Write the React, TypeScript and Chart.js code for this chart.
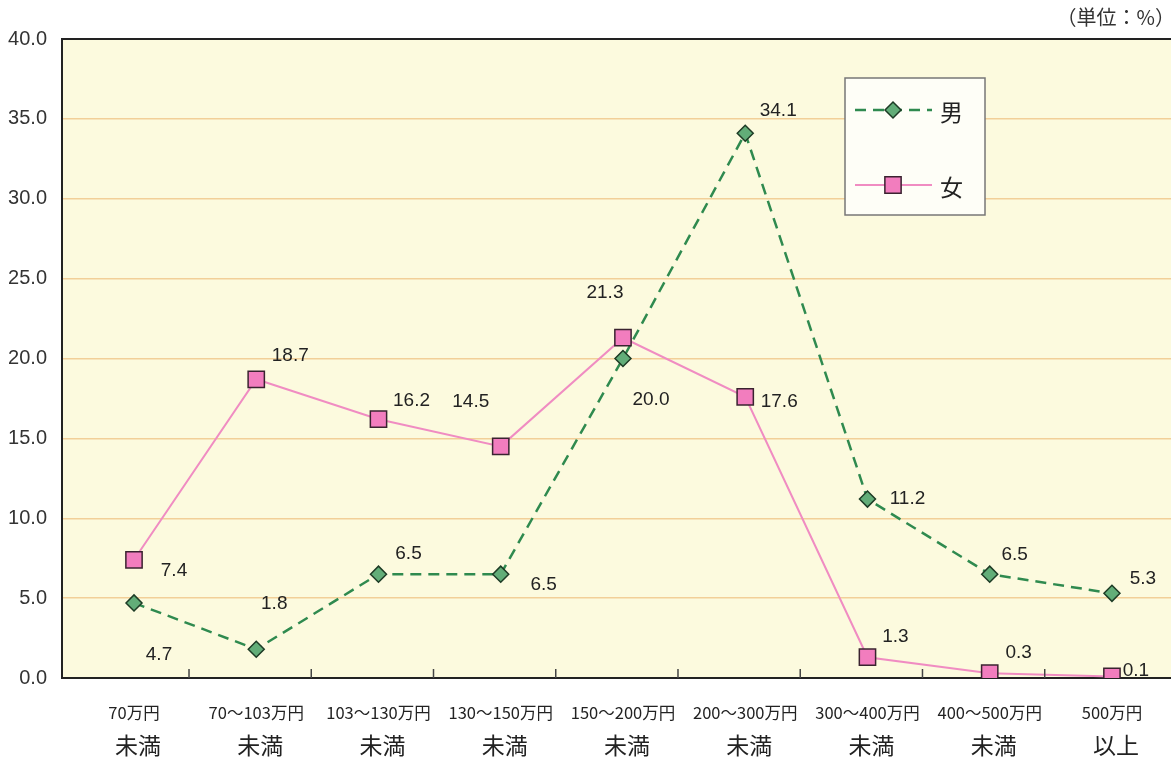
import React, { useEffect, useRef } from "react";
import { Chart, registerables } from "chart.js";

Chart.register(...registerables);

const categoriesTop = ["70万円", "70～103万円", "103～130万円", "130～150万円", "150～200万円", "200～300万円", "300～400万円", "400～500万円", "500万円"];
const categoriesBottom = ["未満", "未満", "未満", "未満", "未満", "未満", "未満", "未満", "以上"];
const maleValues = [4.7, 1.8, 6.5, 6.5, 20.0, 34.1, 11.2, 6.5, 5.3];
const femaleValues = [7.4, 18.7, 16.2, 14.5, 21.3, 17.6, 1.3, 0.3, 0.1];
const yTicks = [0, 5, 10, 15, 20, 25, 30, 35, 40];
const unitLabel = "（単位：%）";
const maleName = "男";
const femaleName = "女";

// label placement hints (pixel offsets from each point)
const maleLabelOffsets = [[25, 52], [18, -45], [30, -20], [43, 11], [28, 41], [33, -22], [40, 0], [25, -19], [31, -15]];
const femaleLabelOffsets = [[40, 11], [34, -24], [33, -18], [-30, -45], [-18, -45], [34, 5], [28, -20], [29, -20], [24, -6]];

const NUM_FONT = "'Liberation Sans', Arial, sans-serif";
const JP_FONT = "'Noto Sans CJK JP', 'Noto Sans', sans-serif";

const decorPlugin = {
  id: "decor",
  beforeDraw(chart: any) {
    const { ctx, chartArea: a } = chart;
    ctx.save();
    ctx.fillStyle = "#ffffff";
    ctx.fillRect(0, 0, chart.width, chart.height);
    ctx.fillStyle = "#fcfade";
    ctx.fillRect(a.left, a.top, a.right - a.left, a.bottom - a.top);
    ctx.restore();
  },
  afterDraw(chart: any) {
    const { ctx, chartArea: a } = chart;
    const xs = chart.scales.x;
    ctx.save();
    ctx.strokeStyle = "#222";
    ctx.lineWidth = 2;
    ctx.beginPath();
    ctx.moveTo(a.left, a.top);
    ctx.lineTo(a.right, a.top);
    ctx.stroke();
    ctx.strokeStyle = "#444";
    ctx.lineWidth = 1.5;
    for (let i = 0; i < categoriesTop.length - 1; i++) {
      const x = xs.getPixelForValue(i + 0.45);
      ctx.beginPath();
      ctx.moveTo(x, a.bottom);
      ctx.lineTo(x, a.bottom - 9);
      ctx.stroke();
    }
    ctx.fillStyle = "#222";
    ctx.textAlign = "center";
    ctx.textBaseline = "middle";
    for (let i = 0; i < categoriesTop.length; i++) {
      const x = xs.getPixelForValue(i);
      ctx.font = `16.5px ${JP_FONT}`;
      ctx.fillText(categoriesTop[i], x, 713);
      ctx.font = `23px ${JP_FONT}`;
      ctx.fillText(categoriesBottom[i], x + 4, 745);
    }
    ctx.font = `20px ${JP_FONT}`;
    ctx.textAlign = "right";
    ctx.fillStyle = "#333";
    ctx.fillText(unitLabel, 1175, 17);

    ctx.font = `19px ${NUM_FONT}`;
    ctx.textAlign = "center";
    ctx.fillStyle = "#222";
    chart.data.datasets.forEach((ds: any, di: number) => {
      const meta = chart.getDatasetMeta(di);
      const offs = ds.labelOffsets;
      meta.data.forEach((el: any, i: number) => {
        const v = ds.data[i].y;
        ctx.fillText(v.toFixed(1), el.x + offs[i][0], el.y + offs[i][1]);
      });
    });

    const bx = 845, by = 78, bw = 140, bh = 137;
    ctx.fillStyle = "#fefef7";
    ctx.fillRect(bx, by, bw, bh);
    ctx.strokeStyle = "#777";
    ctx.lineWidth = 1.5;
    ctx.strokeRect(bx, by, bw, bh);
    const rows = [
      { ds: chart.data.datasets[0], y: 110 },
      { ds: chart.data.datasets[1], y: 185 },
    ];
    rows.forEach(({ ds, y }) => {
      ctx.save();
      ctx.strokeStyle = ds.borderColor;
      ctx.lineWidth = ds.borderWidth;
      ctx.setLineDash(ds.borderDash || []);
      ctx.beginPath();
      ctx.moveTo(855, y);
      ctx.lineTo(932, y);
      ctx.stroke();
      ctx.restore();
      const mx = 893;
      ctx.fillStyle = ds.pointBackgroundColor;
      ctx.strokeStyle = ds.pointBorderColor;
      ctx.lineWidth = ds.pointBorderWidth;
      ctx.beginPath();
      if (ds.pointStyle === "rectRot") {
        const r = ds.pointRadius;
        ctx.moveTo(mx, y - r);
        ctx.lineTo(mx + r, y);
        ctx.lineTo(mx, y + r);
        ctx.lineTo(mx - r, y);
        ctx.closePath();
      } else {
        const s = ds.pointRadius * Math.SQRT1_2;
        ctx.rect(mx - s, y - s, 2 * s, 2 * s);
      }
      ctx.fill();
      ctx.stroke();
      ctx.fillStyle = "#222";
      ctx.font = `23px ${JP_FONT}`;
      ctx.textAlign = "left";
      ctx.textBaseline = "middle";
      ctx.fillText(ds.label, 940, y + 2);
    });
    ctx.restore();
  },
};

const CANVAS_W = 1184;

export default function App() {
  const canvasRef = useRef<HTMLCanvasElement | null>(null);

  useEffect(() => {
    if (!canvasRef.current) return;
    const chart = new Chart(canvasRef.current, {
      type: "line",
      data: {
        datasets: [
          {
            label: maleName,
            data: maleValues.map((v, i) => ({ x: i, y: v })),
            borderColor: "#2f8a4f",
            borderWidth: 2.5,
            borderDash: [11, 7],
            pointStyle: "rectRot",
            pointRadius: 8,
            pointHoverRadius: 8,
            pointBackgroundColor: "#62ad78",
            pointBorderColor: "#1d3b25",
            pointBorderWidth: 1.5,
            tension: 0,
            order: 1,
            labelOffsets: maleLabelOffsets,
          } as any,
          {
            label: femaleName,
            data: femaleValues.map((v, i) => ({ x: i, y: v })),
            borderColor: "#f08cc2",
            borderWidth: 2,
            pointStyle: "rect",
            pointRadius: 11.5,
            pointHoverRadius: 11.5,
            pointBackgroundColor: "#f27dbe",
            pointBorderColor: "#3a2330",
            pointBorderWidth: 1.5,
            tension: 0,
            order: 0,
            labelOffsets: femaleLabelOffsets,
          } as any,
        ],
      },
      options: {
        animation: false,
        responsive: false,
        maintainAspectRatio: false,
        layout: { padding: { top: 39, right: 0, left: 0, bottom: 0 } },
        plugins: {
          legend: { display: false },
          tooltip: { enabled: false },
          title: { display: false },
        },
        scales: {
          x: {
            type: "linear",
            min: -0.589,
            max: 8.483,
            ticks: { display: false },
            grid: { display: false, drawTicks: false },
            border: { display: true, color: "#222", width: 2 },
            afterFit: (s: any) => {
              s.height = 80;
            },
          },
          y: {
            min: 0,
            max: 40,
            afterBuildTicks: (s: any) => {
              s.ticks = yTicks.map((v) => ({ value: v }));
            },
            ticks: {
              padding: 15,
              color: "#333",
              font: { family: NUM_FONT, size: 20 },
              callback: (v: any) => Number(v).toFixed(1),
            },
            grid: {
              color: (c: any) => (c.tick && c.tick.value === 0 ? "rgba(0,0,0,0)" : "#f2cf98"),
              lineWidth: 1.5,
              drawTicks: false,
            },
            border: { display: true, color: "#222", width: 2 },
            afterFit: (s: any) => {
              s.width = 62;
            },
          },
        },
      },
      plugins: [decorPlugin],
    });
    return () => chart.destroy();
  }, []);

  return (
    <div style={{ position: "fixed", left: 0, top: 0, width: 1171, height: 758, overflow: "hidden", background: "#fff" }}>
      <canvas ref={canvasRef} width={CANVAS_W} height={758} style={{ width: CANVAS_W, height: 758, display: "block" }} />
    </div>
  );
}
